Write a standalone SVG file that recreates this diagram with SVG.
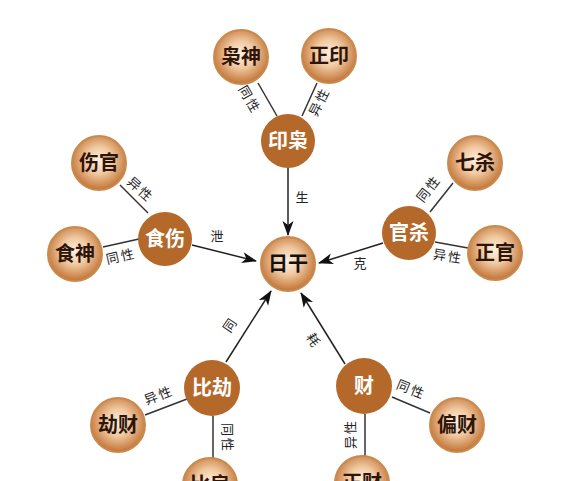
<svg xmlns="http://www.w3.org/2000/svg" width="566" height="481" viewBox="0 0 566 481">
<defs>
<radialGradient id="g" cx="50%" cy="45%" r="55%">
<stop offset="0" stop-color="#fdf0e2"/>
<stop offset="0.45" stop-color="#f1c9a1"/>
<stop offset="1" stop-color="#c17335"/>
</radialGradient>
<marker id="ah" markerUnits="userSpaceOnUse" markerWidth="16" markerHeight="12" refX="14" refY="5.5" orient="auto" viewBox="0 0 16 11">
<path d="M0,0 L15,5.5 L0,11 L4,5.5 z" fill="#111"/>
</marker>
<style>
.sub{fill:url(#g);stroke:#c98a4d;stroke-width:2}
.main{fill:#b4692b}
.st{font-family:"Noto Sans CJK SC","Liberation Serif",serif;font-weight:bold;font-size:20px;fill:#2e150a;text-anchor:middle}
.mt{font-family:"Noto Sans CJK SC","Liberation Sans",sans-serif;font-weight:bold;font-size:20px;fill:#fff;text-anchor:middle}
.ct{font-family:"Noto Sans CJK SC","Liberation Sans",sans-serif;font-weight:bold;font-size:20px;fill:#111;text-anchor:middle}
.ln{stroke:#333;stroke-width:1.5;fill:none}
.ar{stroke:#222;stroke-width:1.5;fill:none;marker-end:url(#ah)}
.lb{font-family:"Noto Sans CJK SC","Liberation Sans",sans-serif;font-size:13px;letter-spacing:2px;fill:#222;text-anchor:middle}
</style>
</defs>
<rect width="566" height="481" fill="#fff"/>
<g id="connectors">
<line class="ar" x1="288" y1="168" x2="288" y2="235"/>
<line class="ar" x1="192" y1="245" x2="256" y2="261"/>
<line class="ar" x1="383" y1="243" x2="319" y2="263"/>
<line class="ar" x1="226" y1="362" x2="271" y2="291"/>
<line class="ar" x1="345" y1="364" x2="301" y2="293"/>
<line class="ln" x1="258" y1="83" x2="277" y2="116"/>
<line class="ln" x1="317" y1="83" x2="302" y2="116"/>
<line class="ln" x1="120" y1="185" x2="148" y2="213"/>
<line class="ln" x1="103" y1="247" x2="139" y2="239"/>
<line class="ln" x1="453" y1="183" x2="430" y2="212"/>
<line class="ln" x1="435" y1="242" x2="468" y2="248"/>
<line class="ln" x1="145" y1="415" x2="187" y2="399"/>
<line class="ln" x1="213" y1="416" x2="213" y2="458"/>
<line class="ln" x1="392" y1="397" x2="430" y2="413"/>
<line class="ln" x1="365" y1="414" x2="365" y2="456"/>
<text class="lb" x="303" y="202">生</text>
<text class="lb" x="218" y="241">泄</text>
<text class="lb" x="361" y="268">克</text>
<text class="lb" transform="translate(231,325) rotate(-56)" y="4">同</text>
<text class="lb" transform="translate(313,341) rotate(58)" y="4">耗</text>
<text class="lb" transform="translate(249,100) rotate(60)" y="4">同性</text>
<text class="lb" transform="translate(320,102) rotate(-63)" y="4">异性</text>
<text class="lb" transform="translate(140,190) rotate(42)" y="4">异性</text>
<text class="lb" transform="translate(121,257) rotate(-13)" y="4">同性</text>
<text class="lb" transform="translate(429,189) rotate(-52)" y="4">同性</text>
<text class="lb" transform="translate(448,257) rotate(9)" y="4">异性</text>
<text class="lb" transform="translate(159,396) rotate(-21)" y="4">异性</text>
<text class="lb" transform="translate(227,438) rotate(90)" y="4">同性</text>
<text class="lb" transform="translate(411,390) rotate(22)" y="4">同性</text>
<text class="lb" transform="translate(351,434) rotate(-90)" y="4">异性</text>
</g>
<g id="rigan"><circle cx="288" cy="264" r="27" class="sub"/><text class="ct" x="288" y="271">日干</text></g>
<g id="yinxiao"><circle cx="288" cy="141" r="27" class="main"/><text class="mt" x="288" y="148">印枭</text></g>
<g id="xiaoshen"><circle cx="241" cy="57" r="27" class="sub"/><text class="st" x="241" y="64">枭神</text></g>
<g id="zhengyin"><circle cx="329" cy="56" r="27" class="sub"/><text class="st" x="329" y="63">正印</text></g>
<g id="shishang"><circle cx="165" cy="239" r="27" class="main"/><text class="mt" x="165" y="246">食伤</text></g>
<g id="shangguan"><circle cx="99" cy="163" r="27" class="sub"/><text class="st" x="99" y="170">伤官</text></g>
<g id="shishen"><circle cx="75" cy="254" r="27" class="sub"/><text class="st" x="75" y="261">食神</text></g>
<g id="guansha"><circle cx="409" cy="233" r="27" class="main"/><text class="mt" x="409" y="240">官杀</text></g>
<g id="qisha"><circle cx="475" cy="163" r="27" class="sub"/><text class="st" x="475" y="170">七杀</text></g>
<g id="zhengguan"><circle cx="495" cy="253" r="27" class="sub"/><text class="st" x="495" y="260">正官</text></g>
<g id="bijie"><circle cx="212" cy="388" r="28" class="main"/><text class="mt" x="212" y="395">比劫</text></g>
<g id="jiecai"><circle cx="118" cy="425" r="27" class="sub"/><text class="st" x="118" y="432">劫财</text></g>
<g id="bijian"><circle cx="210" cy="485" r="27" class="sub"/><text class="st" x="210" y="492">比肩</text></g>
<g id="cai"><circle cx="364" cy="386" r="28" class="main"/><text class="mt" x="364" y="393">财</text></g>
<g id="piancai"><circle cx="457" cy="425" r="27" class="sub"/><text class="st" x="457" y="432">偏财</text></g>
<g id="zhengcai"><circle cx="362" cy="483" r="27" class="sub"/><text class="st" x="362" y="490">正财</text></g>
</svg>
